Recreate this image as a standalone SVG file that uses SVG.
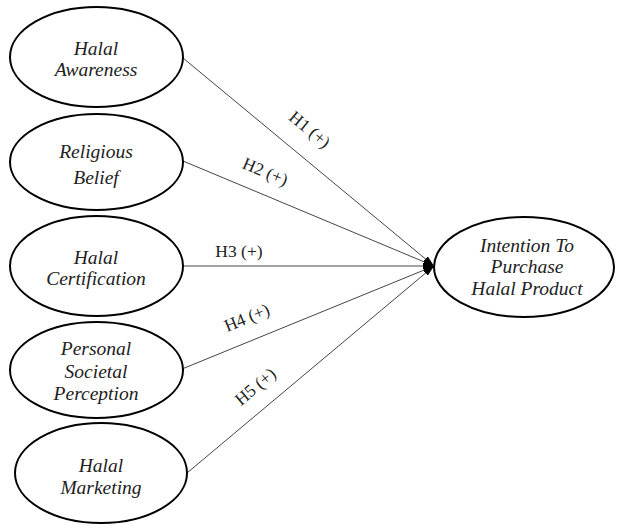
<svg xmlns="http://www.w3.org/2000/svg" width="617" height="525" viewBox="0 0 617 525">
<defs>
<style>
.node ellipse{fill:#fff;stroke:#000;stroke-width:2}
.node text{font-family:"Liberation Serif","Times New Roman",serif;font-style:italic;font-size:19.5px;fill:#222;text-anchor:middle}
.edges line{stroke:#444;stroke-width:1;marker-end:url(#arr)}
.lbl{font-family:"Liberation Serif","Times New Roman",serif;font-size:17.5px;fill:#222;text-anchor:middle}
</style>
<marker id="arr" markerWidth="11" markerHeight="7" refX="11" refY="3.5" orient="auto" markerUnits="userSpaceOnUse">
<path d="M0,0 L11,3.5 L0,7 z" fill="#000"/>
</marker>
</defs>
<rect width="617" height="525" fill="#fff"/>
<g class="edges">
<line x1="183" y1="58" x2="434" y2="266"/>
<line x1="183" y1="161" x2="434" y2="266"/>
<line x1="183" y1="266" x2="434" y2="266"/>
<line x1="182" y1="369" x2="434" y2="266"/>
<line x1="187" y1="473" x2="434" y2="266"/>
<text class="lbl" transform="translate(306,134) rotate(39.6)">H1 (+)</text>
<text class="lbl" transform="translate(263,177) rotate(22.9)">H2 (+)</text>
<text class="lbl" x="239" y="257">H3 (+)</text>
<text class="lbl" transform="translate(249,323) rotate(-22.3)">H4 (+)</text>
<text class="lbl" transform="translate(259,391) rotate(-40)">H5 (+)</text>
</g>
<g id="n1" class="node"><ellipse cx="96.5" cy="57" rx="86.5" ry="50"/><text x="96" y="55">Halal</text><text x="96" y="76">Awareness</text></g>
<g id="n2" class="node"><ellipse cx="96.5" cy="162" rx="86.5" ry="48"/><text x="96" y="158">Religious</text><text x="96" y="184">Belief</text></g>
<g id="n3" class="node"><ellipse cx="96.5" cy="266" rx="86.5" ry="50"/><text x="96" y="264">Halal</text><text x="96" y="285">Certification</text></g>
<g id="n4" class="node"><ellipse cx="96.5" cy="370" rx="86.5" ry="48"/><text x="96" y="355">Personal</text><text x="96" y="378">Societal</text><text x="96" y="400">Perception</text></g>
<g id="n5" class="node"><ellipse cx="101" cy="473" rx="86" ry="50"/><text x="101" y="472">Halal</text><text x="101" y="494">Marketing</text></g>
<g id="n6" class="node"><ellipse cx="524" cy="267" rx="90" ry="50"/><text x="527" y="252">Intention To</text><text x="527" y="273">Purchase</text><text x="527" y="295">Halal Product</text></g>
</svg>
